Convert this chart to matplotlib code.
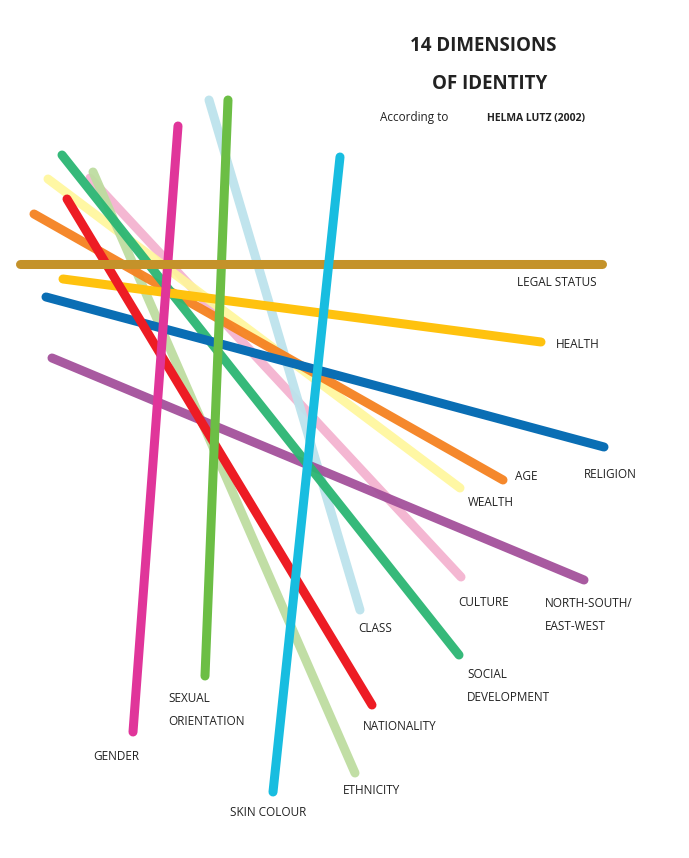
import matplotlib
matplotlib.use("Agg")
import matplotlib.pyplot as plt

names = ["CULTURE", "WEALTH", "CLASS", "ETHNICITY", "NORTH-SOUTH/\nEAST-WEST", "AGE", "SOCIAL\nDEVELOPMENT",
         "HEALTH", "RELIGION", "NATIONALITY", "GENDER", "SEXUAL\nORIENTATION", "LEGAL STATUS", "SKIN COLOUR"]
x0 = [90, 48, 209, 93, 52, 34, 62, 63, 46, 67, 178, 228, 20, 340]
y0 = [178, 179, 100, 172, 358, 214, 155, 279, 297, 199, 126, 100, 264, 157]
x1 = [461, 460, 360, 355, 584, 503, 459, 541, 604, 372, 133, 205, 602, 273]
y1 = [577, 488, 610, 773, 580, 480, 655, 342, 447, 705, 732, 676, 264, 792]
colors = ["#F4B3D0", "#FFF79A", "#BDE3EC", "#BEDDA0", "#A3519B", "#F58220", "#2BB673",
          "#FFC20E", "#0A6EB4", "#ED1C24", "#E0359A", "#6CBE45", "#C4922A", "#18BDE0"]
alphas = [0.95, 0.9, 0.95, 0.95, 0.95, 0.95, 0.95, 1, 1, 1, 1, 1, 1, 1]
label_x = [458, 468, 358, 343, 545, 515, 467, 556, 584, 363, 93, 168, 517, 230]
label_y = [602, 503, 628, 790, 615, 477, 686, 345, 475, 726, 757, 710, 283, 812]

fig = plt.figure(figsize=(6.89, 8.58), dpi=100)
ax = fig.add_axes([0, 0, 1, 1])
ax.set_xlim(0, 689)
ax.set_ylim(858, 0)
ax.axis("off")

for i in range(len(names)):
    ax.plot([x0[i], x1[i]], [y0[i], y1[i]], color=colors[i], alpha=alphas[i],
            lw=6.5, solid_capstyle="round")
    ax.text(label_x[i], label_y[i], names[i], fontsize=8.5, family="Open Sans",
            color="#222222", va="center", ha="left", linespacing=2.0)

ax.text(483, 46, "14 DIMENSIONS", fontsize=13.5, fontweight="bold", family="Open Sans",
        ha="center", va="center", color="#222222")
ax.text(490, 84, "OF IDENTITY", fontsize=13.5, fontweight="bold", family="Open Sans",
        ha="center", va="center", color="#222222")
ax.text(380, 118, "According to", fontsize=8.5, family="Open Sans", ha="left", va="center", color="#222222")
ax.text(487, 118, "HELMA LUTZ (2002)", fontsize=7.5, fontweight="bold", family="Open Sans",
        ha="left", va="center", color="#222222")

fig.savefig("out.png", dpi=100)
